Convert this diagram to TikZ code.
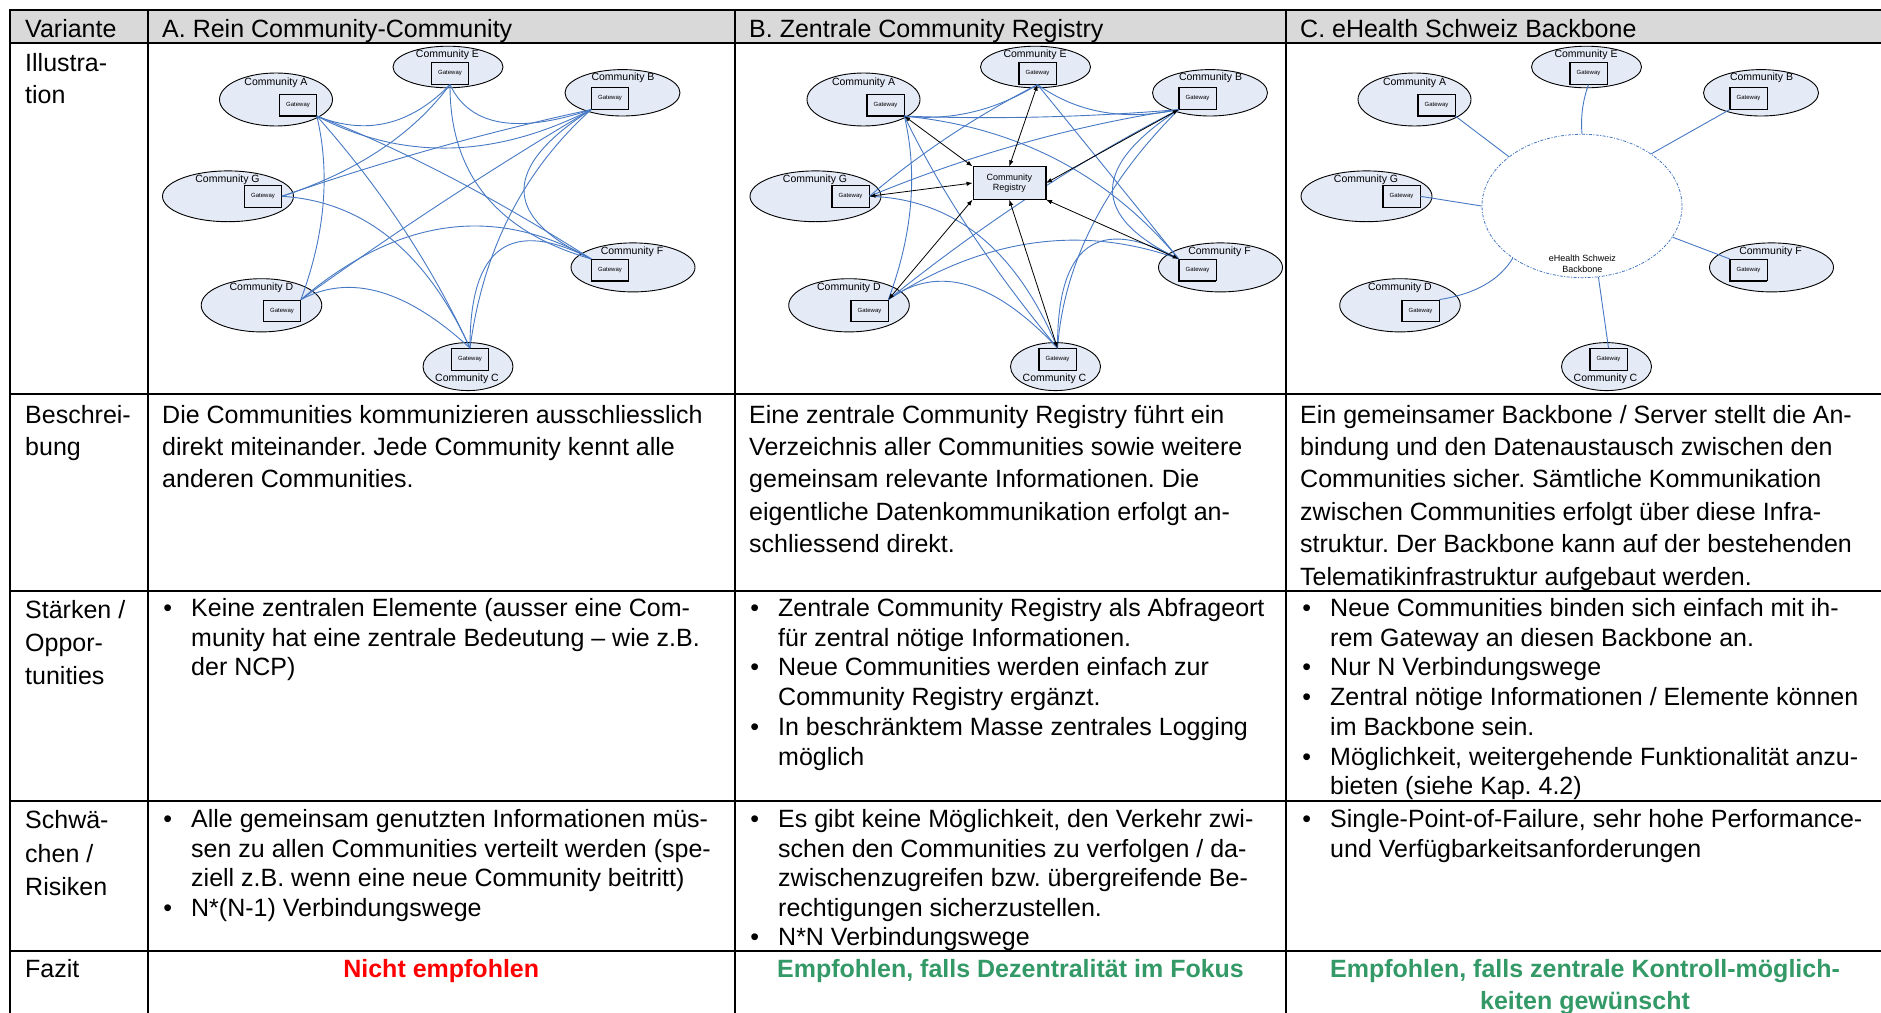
\documentclass[tikz,border=0pt]{standalone}
\usepackage{fontspec}
\setmainfont{Liberation Sans}
\usetikzlibrary{shapes.geometric,calc,arrows.meta}
\frenchspacing

\definecolor{hdrgray}{RGB}{217,217,217}
\definecolor{commfill}{RGB}{228,234,246}
\definecolor{linkblue}{RGB}{70,120,195}
\definecolor{fazitred}{RGB}{255,0,0}
\definecolor{fazitgreen}{RGB}{51,153,102}

\tikzset{
  txt/.style={anchor=base west, inner sep=0pt, font=\fontsize{25}{30}\selectfont},
  fazit/.style={anchor=base, inner sep=0pt, font=\fontsize{25}{30}\selectfont\bfseries},
  tablerule/.style={line width=2pt, black},
  comm/.style={ellipse, draw=black, line width=0.9pt, fill=commfill, inner sep=0pt},
  commlabel/.style={inner sep=0pt, font=\fontsize{10.5}{12}\selectfont},
  gateway/.style={rectangle, draw=black, line width=0.7pt, fill=commfill,
    minimum width=37pt, minimum height=21.5pt, inner sep=0pt, font=\fontsize{6}{7}\selectfont},
  meshline/.style={draw=linkblue, line width=0.9pt},
  regarrow/.style={black, line width=0.8pt, {Latex[length=6pt,width=4.5pt]}-{Latex[length=6pt,width=4.5pt]}},
  registry/.style={rectangle, draw=black, line width=0.7pt, fill=commfill,
    minimum width=72.8pt, minimum height=32.6pt, inner sep=0pt, align=center,
    font=\fontsize{9}{10.5}\selectfont},
  backbone/.style={ellipse, draw=linkblue, line width=0.8pt,
    dash pattern=on 3pt off 1.5pt on 1pt off 1.5pt,
    minimum width=200pt, minimum height=143.4pt, inner sep=0pt},
  bblabel/.style={inner sep=0pt, align=center, font=\fontsize{9}{10.5}\selectfont},
}

% bullet hung to the left of the item text
\newcommand\bul{\llap{\textbullet\hspace{19pt}}}

% one text node per line: name, x, first baseline, line pitch, lines
\newcommand\celllines[5]{%
  \foreach \celltxt [count=\i from 0] in {#5}{%
    \node[txt] (#1-\i) at (#2,{#3+\i*#4}) {\celltxt};}}

% one community: name, centre, width, height, label, label centre, gateway centre
\newcommand\community[7]{%
  \node[comm, minimum width=#3pt, minimum height=#4pt] (#1) at (#2) {};
  \node[commlabel] (#1-lbl) at (#6) {#5};
  \node[gateway] (#1-gw) at (#7) {Gateway};
  \draw[line width=1.3pt] (#1-gw.north west) -- (#1-gw.south west) -- (#1-gw.south east);}

% the seven communities with their connection ports
\newcommand\communities[1]{%
  \community{#1A}{276,99.5}{113}{53}{Community A}{276,82.7}{298,105}
  \community{#1E}{448,67}{110}{41.6}{Community E}{447.5,54.3}{450,73.5}
  \community{#1B}{622.5,92.8}{115}{46.4}{Community B}{623,77.7}{610,98.5}
  \community{#1G}{228,196.3}{131}{50.8}{Community G}{227.5,180}{263,196.3}
  \community{#1F}{633,267.4}{124}{49}{Community F}{632,251.7}{610,270}
  \community{#1D}{261.5,305.3}{120.6}{53.2}{Community D}{261.4,287.5}{282,310.7}
  \community{#1C}{468,366.6}{90}{48}{Community C}{467,378.3}{470,359.2}
  \coordinate (#1pA) at (#1A-gw.south east);
  \coordinate (#1pE) at (#1E-gw.south);
  \coordinate (#1pB) at (#1B-gw.south west);
  \coordinate (#1pG) at (#1G-gw.east);
  \coordinate (#1pF) at (#1F-gw.north west);
  \coordinate (#1pD) at (#1D-gw.north east);
  \coordinate (#1pC) at (#1C-gw.north);}

% curved link from #1 to #3 passing through the point #2 halfway along
\newcommand\meshlink[3]{%
  \coordinate (mq) at ($2*(#2)-0.5*(#1)-0.5*(#3)$);
  \draw[meshline] (#1) .. controls ($(#1)!2/3!(mq)$) and ($(#3)!2/3!(mq)$) .. (#3);}

\begin{document}
\begin{tikzpicture}[x=1pt,y=-1pt]
\useasboundingbox (0,0) rectangle (1881,1012);
\clip (0,0) rectangle (1881,1012);

% table frame
\fill[hdrgray] (10,10) rectangle (1895,43);
\draw[tablerule] (1895,10) -- (10,10) -- (10,1020);
\foreach \yy in {43,394,591,801,951} \draw[tablerule] (10,\yy) -- (1895,\yy);
\foreach \xx in {147.5,735,1286} \draw[tablerule] (\xx,10) -- (\xx,1020);

% first column
\celllines{v0}{25}{37.8}{32}{{Variante}}
\celllines{v1}{25}{71.4}{32.4}{{Illustra-},{tion}}
\celllines{v2}{25}{423}{32.4}{{Beschrei-},{bung}}
\celllines{v3}{25}{618.5}{33}{{Stärken /},{Oppor-},{tunities}}
\celllines{v4}{25}{828.5}{33.5}{{Schwä-},{chen /},{Risiken}}
\celllines{v5}{25}{977.5}{32}{{Fazit}}

% headings
\node[txt] (hA) at (162,37.8) {A. Rein Community-Community};
\node[txt] (hB) at (749,37.8) {B. Zentrale Community Registry};
\node[txt] (hC) at (1300,37.8) {C. eHealth Schweiz Backbone};

% Beschreibung
\celllines{dA}{162}{423}{32.4}{{Die Communities kommunizieren ausschliesslich},{direkt miteinander. Jede Community kennt alle},{anderen Communities.}}
\celllines{dB}{749}{423}{32.4}{{Eine zentrale Community Registry führt ein},{Verzeichnis aller Communities sowie weitere},{gemeinsam relevante Informationen. Die},{eigentliche Datenkommunikation erfolgt an-},{schliessend direkt.}}
\celllines{dC}{1300}{423}{32.4}{{Ein gemeinsamer Backbone / Server stellt die An-},{bindung und den Datenaustausch zwischen den},{Communities sicher. Sämtliche Kommunikation},{zwischen Communities erfolgt über diese Infra-},{struktur. Der Backbone kann auf der bestehenden},{Telematikinfrastruktur aufgebaut werden.}}

% Stärken / Opportunities
\celllines{sA}{191}{616.5}{29.7}{{\bul Keine zentralen Elemente (ausser eine Com-},{munity hat eine zentrale Bedeutung – wie z.B.},{der NCP)}}
\celllines{sB}{778}{616.5}{29.7}{{\bul Zentrale Community Registry als Abfrageort},{für zentral nötige Informationen.},{\bul Neue Communities werden einfach zur},{Community Registry ergänzt.},{\bul In beschränktem Masse zentrales Logging},{möglich}}
\celllines{sC}{1330}{616.5}{29.7}{{\bul Neue Communities binden sich einfach mit ih-},{rem Gateway an diesen Backbone an.},{\bul Nur N Verbindungswege},{\bul Zentral nötige Informationen / Elemente können},{im Backbone sein.},{\bul Möglichkeit, weitergehende Funktionalität anzu-},{bieten (siehe Kap. 4.2)}}

% Schwächen / Risiken
\celllines{wA}{191}{827.5}{29.6}{{\bul Alle gemeinsam genutzten Informationen müs-},{sen zu allen Communities verteilt werden (spe-},{ziell z.B. wenn eine neue Community beitritt)},{\bul N*(N-1) Verbindungswege}}
\celllines{wB}{778}{827.5}{29.6}{{\bul Es gibt keine Möglichkeit, den Verkehr zwi-},{schen den Communities zu verfolgen / da-},{zwischenzugreifen bzw. übergreifende Be-},{rechtigungen sicherzustellen.},{\bul N*N Verbindungswege}}
\celllines{wC}{1330}{827.5}{29.6}{{\bul Single-Point-of-Failure, sehr hohe Performance-},{und Verfügbarkeitsanforderungen}}

% Fazit
\node[fazit, text=fazitred] (fA) at (441.25,977.5) {Nicht empfohlen};
\node[fazit, text=fazitgreen] (fB) at (1010.5,977.5) {Empfohlen, falls Dezentralität im Fokus};
\node[fazit, text=fazitgreen] (fC1) at (1585,977.5) {Empfohlen, falls zentrale Kontroll-möglich-};
\node[fazit, text=fazitgreen] (fC2) at (1585,1009.9) {keiten gewünscht};

% A: every community linked directly
\begin{scope}
  \communities{a}
  \meshlink{apA}{387,123}{apE}
  \meshlink{apA}{450,148}{apB}
  \meshlink{apA}{448,176}{apF}
  \meshlink{apA}{403,228}{apC}
  \meshlink{apA}{323,205}{apD}
  \meshlink{apE}{380,150}{apG}
  \meshlink{apE}{500,122}{apB}
  \meshlink{apE}{485,195}{apF}
  \meshlink{apB}{436,148}{apG}
  \meshlink{apB}{446,200}{apD}
  \meshlink{apB}{510,215}{apC}
  \meshlink{apB}{524,190}{apF}
  \meshlink{apG}{390,238}{apC}
  \meshlink{apD}{446,228}{apF}
  \meshlink{apD}{380,292}{apC}
  \meshlink{apF}{500,250}{apC}
\end{scope}

% B: direct links plus a central registry
\begin{scope}[xshift=587.5pt]
  \communities{b}
  \meshlink{bpA}{385,112}{bpE}
  \meshlink{bpA}{453,117}{bpB}
  \meshlink{bpA}{470,160}{bpF}
  \meshlink{bpA}{382,230}{bpC}
  \meshlink{bpA}{323,205}{bpD}
  \meshlink{bpE}{362,136}{bpG}
  \meshlink{bpE}{515,112}{bpB}
  \meshlink{bpE}{521,172}{bpF}
  \meshlink{bpB}{436,143}{bpG}
  \meshlink{bpB}{446,194}{bpD}
  \meshlink{bpB}{505,225}{bpC}
  \meshlink{bpB}{525,190}{bpF}
  \meshlink{bpG}{392,236}{bpC}
  \meshlink{bpD}{446,243}{bpF}
  \meshlink{bpD}{380,285}{bpC}
  \meshlink{bpF}{500,248}{bpC}
  \node[registry] (breg) at (421.8,183) {Community\\Registry};
  \draw[line width=1.3pt] (breg.north east) -- (breg.south east) -- (breg.south west);
  \draw[regarrow] (bpA) -- (breg.north west);
  \draw[regarrow] (bpE) -- (breg.north);
  \draw[regarrow] (bpB) -- (breg.east);
  \draw[regarrow] (bpG) -- (breg.west);
  \draw[regarrow] (bpF) -- (breg.south east);
  \draw[regarrow] (bpD) -- (breg.south west);
  \draw[regarrow] (bpC) -- (breg.south);
\end{scope}

% C: all communities attached to one backbone
\begin{scope}[xshift=1138.5pt]
  \communities{c}
  \node[backbone] (cbb) at (443.5,206) {};
  \node[bblabel] (cbbl) at (443.9,263.9) {eHealth Schweiz\\Backbone};
  \draw[meshline] (cpA) -- (cbb.146);
  \meshlink{cpE}{444,109}{cbb.90}
  \draw[meshline] (cpB) -- (cbb.37);
  \draw[meshline] (cpG) -- (cbb.180);
  \draw[meshline] (cpF) -- (cbb.-19);
  \meshlink{cpD}{346,285}{cbb.217}
  \draw[meshline] (cpC) -- (cbb.-77);
\end{scope}
\end{tikzpicture}
\end{document}
